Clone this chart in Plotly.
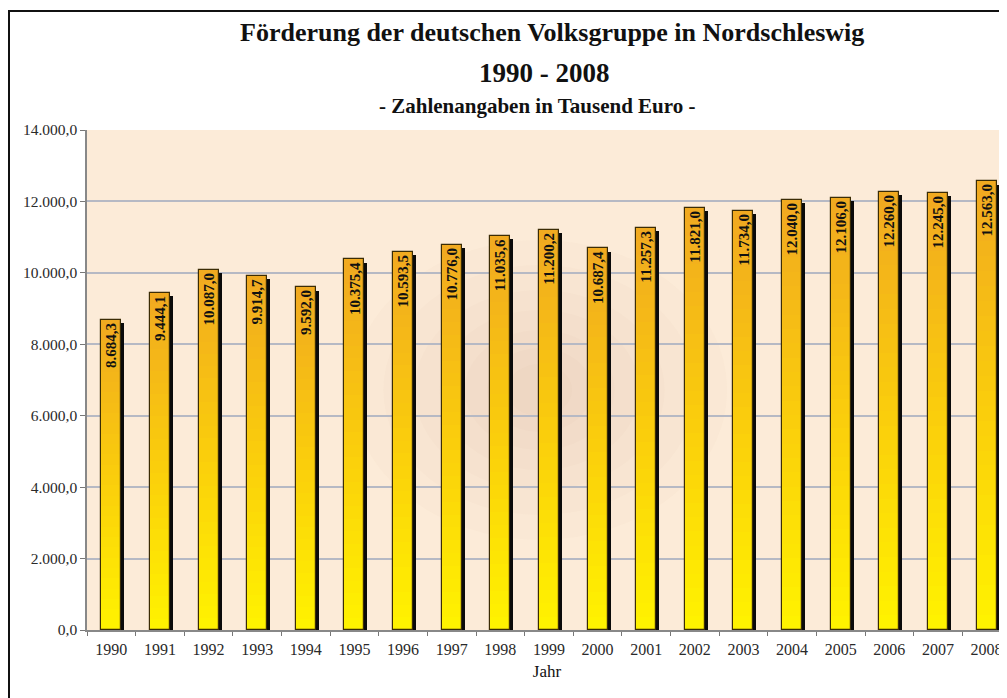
import plotly.graph_objects as go

years = [str(y) for y in range(1990, 2009)]
values = [8684.3, 9444.1, 10087.0, 9914.7, 9592.0, 10375.4, 10593.5, 10776.0,
          11035.6, 11200.2, 10687.4, 11257.3, 11821.0, 11734.0, 12040.0,
          12106.0, 12260.0, 12245.0, 12563.0]
y_ticks = [0, 2000, 4000, 6000, 8000, 10000, 12000, 14000]

title_main = "Förderung der deutschen Volksgruppe in Nordschleswig"
title_years = "1990 - 2008"
title_sub = "- Zahlenangaben in Tausend Euro -"
x_title = "Jahr"

SERIF = "Liberation Serif, Times New Roman, serif"
BAR_W = 0.41
SHADOW_DX = 0.062
TEXT_W = 0.62

fig = go.Figure()

# drop shadow
fig.add_trace(go.Bar(
    x=years, y=[v - 90 for v in values], width=BAR_W, offset=-BAR_W / 2 + SHADOW_DX,
    marker=dict(color="#0a0a0a", line=dict(width=0)), hoverinfo="skip", showlegend=False))

# gradient bands: top orange -> bottom yellow
top_rgb = (241, 170, 32)
mid_rgb = (250, 205, 12)
bot_rgb = (255, 242, 0)
N = 30
for k in range(N):
    f = 1 - k / N
    t = k / (N - 1)
    if t < 0.5:
        a, b, s = top_rgb, mid_rgb, t / 0.5
    else:
        a, b, s = mid_rgb, bot_rgb, (t - 0.5) / 0.5
    c = tuple(round(a[i] + (b[i] - a[i]) * s) for i in range(3))
    fig.add_trace(go.Bar(
        x=years, y=[v * f for v in values], width=BAR_W, offset=-BAR_W / 2,
        marker=dict(color="rgb(%d,%d,%d)" % c, line=dict(width=0)),
        hoverinfo="skip", showlegend=False))

# outline
fig.add_trace(go.Bar(
    x=years, y=values, width=BAR_W, offset=-BAR_W / 2,
    marker=dict(color="rgba(0,0,0,0)", line=dict(color="#3b2c05", width=1.2)),
    showlegend=False))

# value labels (carried by a wider invisible bar so the text is not shrunk)
fig.add_trace(go.Bar(
    x=years, y=values, width=TEXT_W, offset=-TEXT_W / 2,
    marker=dict(color="rgba(0,0,0,0)", line=dict(width=0)),
    texttemplate="<b>%{y:,.1f}</b>", textposition="inside", insidetextanchor="end",
    textangle=-90, textfont=dict(family=SERIF, size=15, color="#111111"),
    hoverinfo="skip", showlegend=False))

PW, PH = 920.0, 500.0
shapes = []
# soft dark blur in the middle of the plot background
cx, cy = 0.492, 0.48
for R in [150, 125, 100, 80, 60, 42, 26]:
    shapes.append(dict(type="circle", xref="paper", yref="paper",
                       x0=cx - 1.25 * R / PW, x1=cx + 1.25 * R / PW,
                       y0=cy - R / PH, y1=cy + R / PH,
                       fillcolor="#a88a60", opacity=0.028, line=dict(width=0), layer="below"))
# outer frame
shapes.append(dict(type="rect", xref="paper", yref="paper",
                   x0=-78 / PW, x1=1.2, y0=-0.3, y1=619 / PH,
                   line=dict(color="#111111", width=2), fillcolor="rgba(0,0,0,0)"))

annotations = [
    dict(text="<b>%s</b>" % title_main, x=0.505, y=1.196, xref="paper", yref="paper",
         showarrow=False, font=dict(family=SERIF, size=26, color="#111111"), yanchor="middle"),
    dict(text="<b>%s</b>" % title_years, x=0.497, y=1.114, xref="paper", yref="paper",
         showarrow=False, font=dict(family=SERIF, size=27, color="#111111"), yanchor="middle"),
    dict(text="<b>%s</b>" % title_sub, x=0.490, y=1.048, xref="paper", yref="paper",
         showarrow=False, font=dict(family=SERIF, size=21, color="#111111"), yanchor="middle"),
]

fig.update_layout(
    width=999, height=690,
    margin=dict(l=79, r=0, t=122, b=68),
    barmode="overlay", bargap=0,
    separators=",.",
    paper_bgcolor="white", plot_bgcolor="#fcebd8",
    shapes=shapes, annotations=annotations,
    showlegend=False,
    font=dict(family=SERIF, color="#222222"),
)
fig.update_xaxes(type="category", range=[-0.5, 18.42], tickson="boundaries",
                 ticks="outside", ticklen=4, tickcolor="#777777",
                 showline=True, linecolor="#888888", linewidth=1.5,
                 showgrid=False, tickfont=dict(family=SERIF, size=16, color="#2a2a2a"),
                 ticklabelstandoff=4,
                 title=dict(text=x_title, font=dict(family=SERIF, size=17, color="#111111"), standoff=8))
fig.update_yaxes(range=[0, 14000], tickvals=y_ticks, tickformat=",.1f",
                 ticks="outside", ticklen=5, tickcolor="#777777",
                 showline=True, linecolor="#888888", linewidth=1.5,
                 showgrid=True, gridcolor="#b6b9c4", gridwidth=1.8,
                 zeroline=False, tickfont=dict(family=SERIF, size=15.5, color="#2a2a2a"))

fig.write_html("out.html")
